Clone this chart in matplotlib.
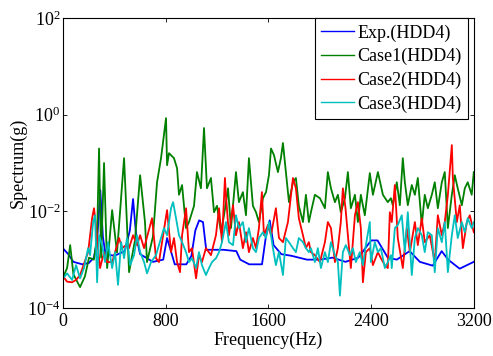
import numpy as np
import matplotlib
matplotlib.use("Agg")
import matplotlib.pyplot as plt
from matplotlib.ticker import LogFormatterSciNotation, NullLocator

plt.rcParams['font.family'] = ['Liberation Serif', 'DejaVu Serif']
plt.rcParams['mathtext.fontset'] = 'custom'
plt.rcParams['mathtext.rm'] = 'Liberation Serif'
plt.rcParams['mathtext.it'] = 'Liberation Serif:italic'

# Exp.(HDD4)
f_exp = [0, 40, 80, 150, 200, 240, 265, 290, 310, 330, 400, 480, 520, 545, 570, 600,
         700, 780, 810, 840, 870, 960, 1000, 1030, 1060, 1090, 1115, 1250, 1350, 1380,
         1450, 1550, 1580, 1610, 1640, 1700, 1780, 1900, 2000, 2100, 2200, 2300, 2400,
         2450, 2530, 2600, 2700, 2780, 2880, 2950, 3000, 3090, 3200]
s_exp = [0.0017, 0.0013, 0.0009, 0.0008, 0.00085, 0.0011, 0.0025, 0.0275, 0.003, 0.0013,
         0.0012, 0.0015, 0.004, 0.018, 0.003, 0.0013, 0.0009, 0.001, 0.0028, 0.0015,
         0.0008, 0.0008, 0.0012, 0.004, 0.0065, 0.006, 0.0016, 0.0016, 0.0015, 0.001,
         0.0008, 0.0008, 0.003, 0.0065, 0.002, 0.0013, 0.0012, 0.001, 0.001, 0.0011,
         0.0009, 0.0011, 0.0025, 0.0025, 0.0011, 0.001, 0.0015, 0.0009, 0.00075, 0.0015,
         0.001, 0.00065, 0.0009]

# Case1(HDD4)
f_c1 = [0, 31, 55, 80, 132, 170, 202, 240, 265, 280, 296, 319, 343, 382, 420, 475, 514,
        560, 600, 638, 654, 700, 732, 763, 802, 810, 825, 864, 888, 903, 927, 958, 981,
        1020, 1043, 1074, 1098, 1121, 1152, 1176, 1199, 1230, 1254, 1285, 1308, 1347,
        1370, 1401, 1425, 1448, 1479, 1503, 1526, 1557, 1581, 1604, 1620, 1643, 1674,
        1697, 1713, 1736, 1760, 1791, 1814, 1837, 1869, 1892, 1915, 1931, 1962, 2001,
        2040, 2063, 2087, 2118, 2141, 2164, 2196, 2219, 2242, 2274, 2297, 2320, 2351,
        2390, 2414, 2453, 2492, 2530, 2554, 2569, 2600, 2624, 2647, 2663, 2686, 2717,
        2741, 2764, 2795, 2818, 2842, 2873, 2896, 2920, 2951, 2974, 2998, 3029, 3052,
        3075, 3107, 3130, 3153, 3184, 3200]
s_c1 = [0.00043, 0.00067, 0.002, 0.0005, 0.00027, 0.00045, 0.0011, 0.001, 0.003, 0.2,
        0.0011, 0.1, 0.00067, 0.0106, 0.0014, 0.126, 0.00055, 0.0025, 0.056, 0.006,
        0.00089, 0.003, 0.04, 0.126, 0.85, 0.09, 0.16, 0.126, 0.078, 0.022, 0.035,
        0.0045, 0.006, 0.013, 0.065, 0.03, 0.53, 0.03, 0.049, 0.0096, 0.013, 0.0037,
        0.0083, 0.03, 0.0045, 0.065, 0.0155, 0.025, 0.0083, 0.126, 0.013, 0.0096, 0.006,
        0.0187, 0.025, 0.056, 0.2, 0.146, 0.065, 0.126, 0.26, 0.065, 0.0155, 0.04, 0.049,
        0.013, 0.006, 0.022, 0.006, 0.0096, 0.022, 0.0187, 0.0116, 0.065, 0.03, 0.0155,
        0.022, 0.0096, 0.0187, 0.065, 0.0116, 0.022, 0.006, 0.022, 0.0083, 0.062, 0.022,
        0.065, 0.022, 0.0155, 0.0187, 0.0134, 0.04, 0.0134, 0.126, 0.04, 0.0134, 0.035,
        0.022, 0.049, 0.0052, 0.022, 0.0116, 0.022, 0.04, 0.0116, 0.04, 0.065, 0.0045,
        0.022, 0.056, 0.03, 0.0134, 0.03, 0.04, 0.022, 0.065]

# Case2(HDD4)
f_c2 = [0, 31, 70, 101, 132, 195, 226, 241, 265, 288, 319, 343, 382, 405, 436, 459, 491,
        514, 545, 576, 600, 631, 693, 724, 747, 771, 810, 841, 864, 888, 911, 927, 958,
        981, 1004, 1036, 1059, 1082, 1113, 1152, 1191, 1215, 1238, 1261, 1269, 1292,
        1324, 1347, 1370, 1401, 1425, 1448, 1479, 1503, 1526, 1549, 1565, 1596, 1620,
        1658, 1682, 1713, 1752, 1791, 1814, 1837, 1869, 1892, 1915, 1931, 1962, 2001,
        2040, 2063, 2087, 2118, 2141, 2164, 2180, 2200, 2219, 2242, 2274, 2297, 2320,
        2336, 2359, 2390, 2414, 2453, 2476, 2507, 2530, 2546, 2561, 2585, 2608, 2647,
        2678, 2702, 2741, 2764, 2795, 2818, 2857, 2896, 2920, 2951, 2974, 2998, 3029,
        3037, 3068, 3091, 3115, 3146, 3169, 3200]
s_c2 = [0.00045, 0.00035, 0.00034, 0.00038, 0.00048, 0.00143, 0.0072, 0.0116, 0.0028,
        0.00067, 0.00143, 0.00089, 0.00089, 0.00143, 0.0028, 0.00173, 0.002, 0.00173,
        0.0032, 0.002, 0.0032, 0.00173, 0.0072, 0.00107, 0.00089, 0.0023, 0.0106,
        0.00143, 0.0028, 0.00089, 0.00055, 0.0032, 0.0116, 0.00143, 0.00173, 0.00041,
        0.00124, 0.00089, 0.00173, 0.00124, 0.0032, 0.0116, 0.0023, 0.049, 0.0216,
        0.0032, 0.0134, 0.0032, 0.006, 0.00173, 0.0037, 0.00143, 0.0028, 0.00173,
        0.0045, 0.025, 0.0032, 0.0052, 0.0032, 0.0116, 0.0028, 0.0023, 0.006, 0.049,
        0.03, 0.0072, 0.0032, 0.00173, 0.0023, 0.00143, 0.00124, 0.00089, 0.0023, 0.006,
        0.0045, 0.00089, 0.00173, 0.006, 0.03, 0.012, 0.0032, 0.00067, 0.0083, 0.0155,
        0.0045, 0.00034, 0.00143, 0.00173, 0.00077, 0.00143, 0.00107, 0.00077, 0.00067,
        0.0096, 0.006, 0.035, 0.0028, 0.00067, 0.0045, 0.00143, 0.006, 0.002, 0.0072,
        0.0023, 0.0032, 0.00089, 0.0083, 0.0032, 0.006, 0.0216, 0.235, 0.049, 0.006,
        0.0134, 0.00173, 0.006, 0.0083, 0.0037]

# Case3(HDD4)
f_c3 = [0, 31, 70, 101, 132, 163, 195, 210, 234, 249, 265, 280, 304, 327, 350, 382, 405,
        428, 452, 475, 498, 522, 553, 576, 600, 631, 654, 685, 724, 763, 786, 810, 841,
        857, 880, 903, 927, 958, 981, 1004, 1036, 1059, 1082, 1113, 1137, 1160, 1191,
        1215, 1238, 1269, 1292, 1324, 1347, 1370, 1401, 1425, 1448, 1479, 1503, 1526,
        1557, 1581, 1604, 1635, 1658, 1682, 1713, 1736, 1760, 1791, 1814, 1837, 1869,
        1892, 1915, 1931, 1962, 1985, 2009, 2040, 2063, 2087, 2118, 2141, 2157, 2180,
        2203, 2235, 2258, 2281, 2312, 2336, 2359, 2390, 2398, 2429, 2453, 2476, 2507,
        2530, 2554, 2561, 2585, 2608, 2639, 2663, 2686, 2717, 2741, 2764, 2795, 2818,
        2842, 2873, 2896, 2920, 2951, 2974, 2998, 3029, 3052, 3075, 3107, 3130, 3153,
        3184, 3200]
s_c3 = [0.00041, 0.00052, 0.00038, 0.00077, 0.00041, 0.00067, 0.00173, 0.00124, 0.006,
        0.0083, 0.00034, 0.0032, 0.002, 0.00089, 0.0023, 0.00067, 0.00143, 0.0003,
        0.0023, 0.00107, 0.0028, 0.00077, 0.00124, 0.0032, 0.00143, 0.00089, 0.00052,
        0.00089, 0.00124, 0.0028, 0.0045, 0.0032, 0.0116, 0.0155, 0.0072, 0.0032,
        0.0023, 0.00143, 0.00089, 0.00107, 0.00067, 0.00143, 0.00077, 0.00048, 0.00067,
        0.00089, 0.00107, 0.00143, 0.0023, 0.006, 0.0023, 0.002, 0.0083, 0.0045, 0.006,
        0.0023, 0.0045, 0.00173, 0.00143, 0.0028, 0.0037, 0.0028, 0.006, 0.00173,
        0.00077, 0.00143, 0.00048, 0.0028, 0.0023, 0.00173, 0.00143, 0.0028, 0.0023,
        0.00173, 0.00143, 0.00173, 0.00089, 0.00173, 0.00067, 0.00143, 0.00089, 0.0023,
        0.00124, 0.00089, 0.00018, 0.00143, 0.002, 0.00124, 0.00173, 0.00089, 0.00143,
        0.00077, 0.002, 0.006, 0.00089, 0.0023, 0.00143, 0.00173, 0.00067, 0.00089,
        0.00124, 0.00067, 0.0045, 0.0052, 0.0083, 0.00143, 0.0096, 0.00048, 0.0028,
        0.0045, 0.0032, 0.00143, 0.0037, 0.0032, 0.00055, 0.0045, 0.0023, 0.006,
        0.00055, 0.0032, 0.0083, 0.0028, 0.006, 0.0037, 0.0072, 0.0045, 0.006]

labels = ['Exp.(HDD4)', 'Case1(HDD4)', 'Case2(HDD4)', 'Case3(HDD4)']
colors = ['#0000ff', '#008000', '#ff0000', '#00bfbf']

fig = plt.figure(figsize=(4.93, 3.56), dpi=100)
ax = fig.add_axes([0.128, 0.135, 0.833, 0.814])

series = [(f_exp, s_exp), (f_c1, s_c1), (f_c2, s_c2), (f_c3, s_c3)]
for (f, s), lab, c in zip(series, labels, colors):
    ax.semilogy(f, s, color=c, lw=1.3, label=lab)

ax.set_xlim(0, 3200)
ax.set_ylim(1e-4, 1e2)
ax.set_xticks([0, 800, 1600, 2400, 3200])
ax.set_yticks([1e-4, 1e-2, 1e0, 1e2])
ax.yaxis.set_minor_locator(NullLocator())
ax.yaxis.set_major_formatter(LogFormatterSciNotation())
ax.tick_params(direction='in', top=True, right=True, labelsize=13, length=3, width=0.6)
ax.tick_params(axis='y', pad=2)
for sp in ax.spines.values():
    sp.set_linewidth(0.8)

ax.set_xlabel('Frequency(Hz)', fontsize=13, labelpad=1)
ax.set_ylabel('Spectrum(g)', fontsize=13, labelpad=0)

leg = ax.legend(loc='upper right', bbox_to_anchor=(0.985, 1.0), borderaxespad=0,
                fancybox=False, edgecolor='black', framealpha=1, fontsize=13,
                handlelength=1.8, handletextpad=0.17, labelspacing=0.35, borderpad=0.35)
leg.get_frame().set_linewidth(0.8)
for line in leg.get_lines():
    line.set_linewidth(1.0)

fig.savefig('out.png', dpi=100)
